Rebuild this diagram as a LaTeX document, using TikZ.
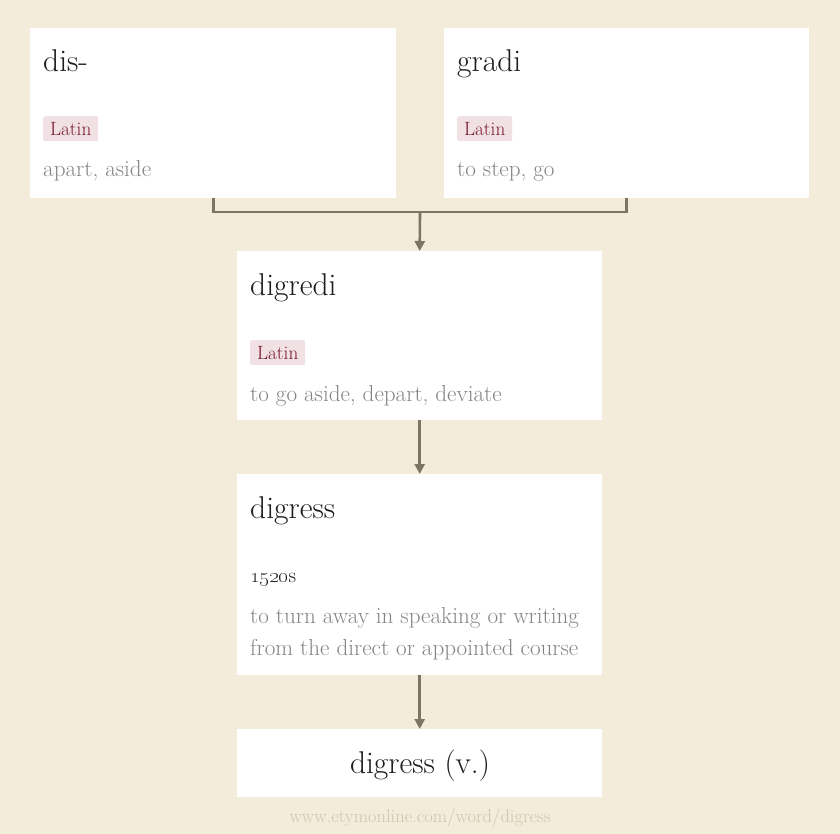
\documentclass[tikz,border=0pt]{standalone}
\usetikzlibrary{arrows.meta}
\definecolor{bgc}{HTML}{F3ECDA}
\definecolor{linec}{HTML}{7D7563}
\definecolor{titlec}{HTML}{1E1E1E}
\definecolor{defc}{HTML}{858585}
\definecolor{tagbg}{HTML}{F1E1E4}
\definecolor{tagfg}{HTML}{7A1A2E}
\definecolor{urlc}{HTML}{CFC6B0}
\tikzset{
  wbox/.style={fill=white, draw=none, inner sep=0pt, anchor=north west},
  ttl/.style={inner sep=0pt, anchor=base west, text=titlec, font=\fontsize{31.5}{33}\selectfont},
  defn/.style={inner sep=0pt, anchor=base west, text=defc, font=\fontsize{23.1}{25}\selectfont},
  tagbox/.style={fill=tagbg, text=tagfg, rounded corners=2pt, inner sep=0pt, minimum width=55pt, minimum height=25pt, anchor=north west, font=\fontsize{19.2}{20}\selectfont},
  conn/.style={draw=linec, line width=2.6pt},
  arr/.style={conn, -{Triangle[width=10pt,length=10pt]}},
}
\begin{document}
\begin{tikzpicture}[x=1pt,y=-1pt]
\fill[bgc] (0,0) rectangle (840,834);
\useasboundingbox (0,0) rectangle (840,834);
% boxes
\node[wbox, minimum width=366pt, minimum height=170pt] (dis) at (30,28) {};
\node[wbox, minimum width=365pt, minimum height=170pt] (gradi) at (444,28) {};
\node[wbox, minimum width=365pt, minimum height=169pt] (digredi) at (237,251) {};
\node[wbox, minimum width=365pt, minimum height=201pt] (digress) at (237,474) {};
\node[wbox, minimum width=365pt, minimum height=68pt] (final) at (237,729) {};
% dis-
\node[ttl] (distitle) at (43,72) {dis-};
\node[tagbox] (distag) at (43,116) {Latin};
\node[defn] (disdef) at (43,177) {apart, aside};
% gradi
\node[ttl] (graditl) at (457,72) {gradi};
\node[tagbox] (graditag) at (457,116) {Latin};
\node[defn] (gradidef) at (457,177) {to step, go};
% digredi
\node[ttl] (digredititle) at (250,295) {digredi};
\node[tagbox] (digreditag) at (250,340) {Latin};
\node[defn] (digredidef) at (250,401) {to go aside, depart, deviate};
% digress
\node[ttl] (digresstitle) at (250,518) {digress};
\node[inner sep=0pt, anchor=base west, text=titlec, font=\fontsize{21}{23}\selectfont] (digressdate) at (250,582) {\oldstylenums{1520}s};
\node[defn] (digressdefa) at (250,623) {to turn away in speaking or writing};
\node[defn] (digressdefb) at (250,655) {from the direct or appointed course};
% final
\node[inner sep=0pt, anchor=base, text=titlec, font=\fontsize{31.5}{33}\selectfont] (finaltitle) at (420,773) {digress (v.)};
% url
\node[inner sep=0pt, anchor=base, text=urlc, font=\fontsize{18.5}{20}\selectfont] (url) at (420,822) {www.etymonline.com/word/digress};
% connectors
\coordinate (join) at (420,212);
\draw[conn] (dis.south) |- (join) -| (gradi.south);
\draw[arr] (join) -- (digredi.north);
\draw[arr] (digredi.south) -- (digress.north);
\draw[arr] (digress.south) -- (final.north);
\end{tikzpicture}
\end{document}
